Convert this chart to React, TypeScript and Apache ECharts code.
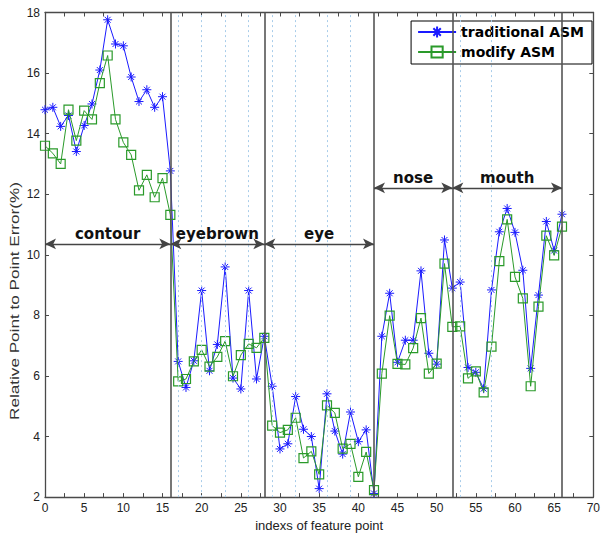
import React, { useEffect, useRef } from "react";
import * as echarts from "echarts";

const featureIndex: number[] = [
  0, 1, 2, 3, 4, 5, 6, 7, 8, 9, 10, 11, 12, 13, 14, 15, 16, 17, 18, 19, 20, 21, 22, 23, 24, 25, 26, 27, 28, 29, 30,
  31, 32, 33, 34, 35, 36, 37, 38, 39, 40, 41, 42, 43, 44, 45, 46, 47, 48, 49, 50, 51, 52, 53, 54, 55, 56, 57, 58,
  59, 60, 61, 62, 63, 64, 65, 66,
];

const traditionalASM: number[] = [
  14.79, 14.87, 14.24, 14.6, 13.41, 14.27, 14.98, 16.1, 17.76, 16.96, 16.9, 15.87, 15.06, 15.45, 14.87, 15.22, 12.77,
  6.48, 5.62, 6.5, 8.82, 6.17, 7.04, 9.6, 5.93, 5.57, 8.82, 5.9, 7.31, 5.66,
  3.59, 3.76, 5.32, 4.24, 4.0, 2.28, 5.41, 4.18, 3.42, 4.81, 3.83, 4.22, 2.12,
  7.31, 8.73, 6.45, 7.18, 7.18, 9.47, 6.75, 6.39, 10.49, 8.9, 9.1, 6.28, 6.12, 5.58,
  8.84, 10.76, 11.53, 10.74, 9.49, 6.25, 8.67, 11.1, 10.14, 11.34,
];

const modifyASM: number[] = [
  13.6, 13.35, 13.0, 14.79, 13.77, 14.76, 14.47, 15.67, 16.58, 14.47, 13.71, 13.3, 12.13, 12.64, 11.9, 12.53, 11.32,
  5.82, 5.9, 6.48, 6.86, 6.31, 6.63, 7.15, 5.99, 6.69, 7.06, 6.93, 7.26, 4.36,
  4.13, 4.22, 4.62, 3.29, 3.51, 2.75, 5.03, 4.78, 3.6, 3.76, 2.67, 3.49, 2.23,
  6.08, 7.99, 6.4, 6.38, 6.92, 7.91, 6.08, 6.41, 9.71, 7.62, 7.64, 5.92, 6.15, 5.46,
  6.97, 9.79, 11.17, 9.27, 8.56, 5.66, 8.29, 10.63, 9.98, 10.93,
];

const sectionBounds: number[] = [16, 28, 42, 52, 66];
const subBounds: number[] = [17, 20, 23, 26, 29, 32, 36, 39, 53, 57];

const regionNames: string[] = ["contour", "eyebrown", "eye", "nose", "mouth"];
const regionFrom: number[] = [0, 16, 28, 42, 52];
const regionTo: number[] = [16, 28, 42, 52, 66];
const regionLevel: number[] = [10.36, 10.36, 10.36, 12.21, 12.21];

const xTicks = { min: 0, max: 70, interval: 5 };
const yTicks = { min: 2, max: 18, interval: 2 };

const AXIS_COLOR = "#4a4a4a";
const LABEL_COLOR = "#222";
const BLUE = "#1a1aff";
const GREEN = "#2a9a2a";

export default function App() {
  const ref = useRef<HTMLDivElement>(null);

  useEffect(() => {
    document.body.style.margin = "0";
    if (!ref.current) return;
    const chart = echarts.init(ref.current, undefined, { renderer: "svg" });

    const xAxisBase = {
      type: "value" as const,
      min: xTicks.min,
      max: xTicks.max,
      interval: xTicks.interval,
      axisLine: { show: true, onZero: false, lineStyle: { color: AXIS_COLOR, width: 1.3 } },
      axisTick: { show: true, inside: true, length: 4, lineStyle: { color: AXIS_COLOR } },
      minorTick: { show: true, splitNumber: 2, length: 4, lineStyle: { color: AXIS_COLOR } },
      splitLine: { show: false },
    };
    const yAxisBase = {
      type: "value" as const,
      min: yTicks.min,
      max: yTicks.max,
      interval: yTicks.interval,
      axisLine: { show: true, onZero: false, lineStyle: { color: AXIS_COLOR, width: 1.3 } },
      axisTick: { show: true, inside: true, length: 4, lineStyle: { color: AXIS_COLOR } },
      splitLine: { show: false },
    };

    const arrowLines = regionNames.map((name, i) => [
      { coord: [regionFrom[i], regionLevel[i]], name },
      { coord: [regionTo[i], regionLevel[i]] },
    ]);

    chart.setOption({
      animation: false,
      backgroundColor: "#fff",
      grid: { left: 45, right: 5, top: 12.5, bottom: 33, containLabel: false },
      legend: {
        data: ["traditional ASM", "modify ASM"],
        orient: "vertical",
        right: 11,
        top: 21,
        padding: [4, 8, 5, 6],
        itemGap: 6,
        itemWidth: 38,
        itemHeight: 14,
        borderColor: "#000",
        borderWidth: 1,
        borderRadius: 0,
        backgroundColor: "#fff",
        textStyle: { fontFamily: "DejaVu Sans", fontWeight: "bold", fontSize: 14, color: "#000" },
      },
      xAxis: [
        {
          ...xAxisBase,
          position: "bottom",
          name: "indexs of feature point",
          nameLocation: "middle",
          nameGap: 20,
          nameTextStyle: { fontFamily: "Liberation Sans", fontSize: 13, color: LABEL_COLOR },
          axisLabel: { margin: 5, fontFamily: "Liberation Sans", fontSize: 12, color: LABEL_COLOR },
        },
        { ...xAxisBase, position: "top", axisLabel: { show: false } },
      ],
      yAxis: [
        {
          ...yAxisBase,
          position: "left",
          axisLabel: { margin: 5, fontFamily: "Liberation Sans", fontSize: 12, color: LABEL_COLOR },
        },
        { ...yAxisBase, position: "right", axisLabel: { show: false } },
      ],
      graphic: [
        {
          type: "text",
          x: 14,
          y: 301,
          rotation: Math.PI / 2,
          scaleX: 1.37,
          style: {
            text: "Relative Point to Point Error(%)",
            fontFamily: "Liberation Sans",
            fontSize: 12.5,
            fill: "#333",
            align: "center",
            verticalAlign: "middle",
          },
        },
      ],
      series: [
        {
          name: "bounds",
          type: "line",
          data: [],
          silent: true,
          z: 1,
          markLine: {
            silent: true,
            symbol: ["none", "none"],
            label: { show: false },
            data: [
              ...subBounds.map((x) => ({
                xAxis: x,
                lineStyle: { color: "#a9cdea", width: 1, type: [2, 3] },
              })),
              ...sectionBounds.map((x) => ({
                xAxis: x,
                lineStyle: { color: "#555", width: 1.6, type: "solid" },
              })),
            ],
          },
        },
        {
          name: "traditional ASM",
          type: "line",
          data: featureIndex.map((x, i) => [x, traditionalASM[i]]),
          z: 3,
          symbol: "path://M5 0L5 10M0 5L10 5M1.7 1.7L8.3 8.3M1.7 8.3L8.3 1.7",
          symbolSize: 9,
          showAllSymbol: true,
          lineStyle: { color: BLUE, width: 1 },
          itemStyle: { color: BLUE, borderColor: BLUE, borderWidth: 1 },
        },
        {
          name: "modify ASM",
          type: "line",
          data: featureIndex.map((x, i) => [x, modifyASM[i]]),
          z: 4,
          symbol: "rect",
          symbolSize: 9,
          showAllSymbol: true,
          lineStyle: { color: GREEN, width: 1 },
          itemStyle: { color: "rgba(255,255,255,0)", borderColor: GREEN, borderWidth: 1.2 },
        },
        {
          name: "regions",
          type: "line",
          data: [],
          silent: true,
          z: 5,
          markLine: {
            silent: true,
            symbol: ["arrow", "arrow"],
            symbolSize: [8, 11],
            lineStyle: { color: "#444", width: 1.3, type: "solid" },
            label: {
              show: true,
              position: "insideMiddleTop",
              distance: 2,
              formatter: (p: any) => p.name,
              fontFamily: "DejaVu Sans",
              fontWeight: "bold",
              fontSize: 15,
              color: "#111",
            },
            data: arrowLines,
          },
        },
      ],
    });

    return () => chart.dispose();
  }, []);

  return <div ref={ref} style={{ width: 603, height: 537 }} />;
}
